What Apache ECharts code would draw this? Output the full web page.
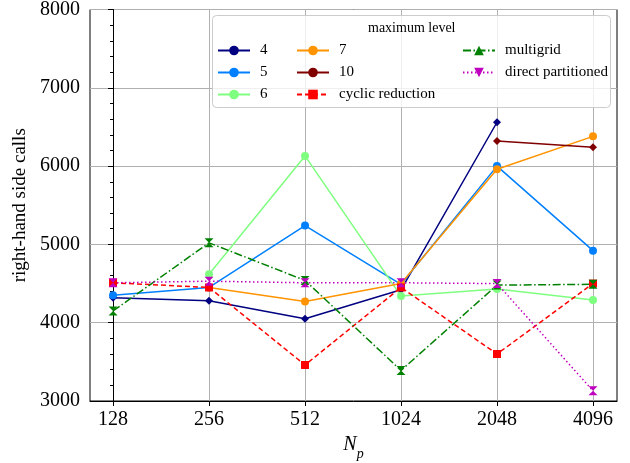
<!DOCTYPE html>
<html><head><meta charset="utf-8">
<script src="https://cdn.jsdelivr.net/npm/echarts@6/dist/echarts.min.js"></script>
<style>html,body{margin:0;padding:0;background:#fff}#c{width:630px;height:463px}</style>
</head><body><div id="c"></div>
<script>
const categories = ['128', '256', '512', '1024', '2048', '4096'];
const yTicks = [3000, 4000, 5000, 6000, 7000, 8000];
const lvl4 = [4320, 4280, 4050, 4420, 6560, null];
const lvl5 = [4350, 4450, 5240, 4490, 6000, 4920];
const lvl6 = [null, 4620, 6130, 4340, 4430, 4290];
const lvl7 = [null, 4450, 4270, 4500, 5960, 6380];
const lvl10 = [null, null, null, null, 6320, 6240];
const cyclic = [4510, 4450, 3460, 4450, 3600, 4500];
const multigrid = [4150, 5020, 4540, 3390, 4480, 4490];
const direct = [4510, 4530, 4510, 4510, 4500, 3130];

const FONT = 'Liberation Serif';
const hourglass = 'path://M0,0L10,0L5,5L10,10L0,10L5,5Z';
const invTri = 'path://M0,0L10,0L5,9Z';

function pts(arr) {
  const out = [];
  arr.forEach((v, i) => { if (v != null) out.push([i, v]); });
  return out;
}
const defs = [
  {name: '4', data: lvl4, color: '#000080', type: 'solid', sym: 'diamond', lsym: 'circle', size: 8},
  {name: '5', data: lvl5, color: '#0080ff', type: 'solid', sym: 'circle', lsym: 'circle', size: 8},
  {name: '6', data: lvl6, color: '#7fff7f', type: 'solid', sym: 'circle', lsym: 'circle', size: 8},
  {name: '7', data: lvl7, color: '#ff9400', type: 'solid', sym: 'circle', lsym: 'circle', size: 8},
  {name: '10', data: lvl10, color: '#800000', type: 'solid', sym: 'diamond', lsym: 'circle', size: 8},
  {name: 'cyclic reduction', data: cyclic, color: '#ff0000', type: [5, 3], sym: 'rect', lsym: 'rect', size: 8},
  {name: 'multigrid', data: multigrid, color: '#008000', type: [8, 2.5, 1.5, 2.5], sym: hourglass, lsym: 'triangle', size: 9},
  {name: 'direct partitioned', data: direct, color: '#bf00bf', type: [1.5, 2.5], sym: hourglass, lsym: invTri, size: 9}
];

const series = [];
defs.forEach(d => series.push({
  type: 'line', name: d.name, data: [], symbol: d.lsym, symbolSize: 7,
  itemStyle: {color: d.color}, lineStyle: {color: d.color, width: 1.5, type: d.type}
}));
defs.forEach(d => series.push({
  type: 'line', name: d.name, data: pts(d.data), symbol: d.sym, symbolSize: d.size,
  showAllSymbol: true, animation: false, z: 2,
  itemStyle: {color: d.color}, lineStyle: {color: d.color, width: 1.5, type: d.type},
  emphasis: {disabled: true}
}));

const legendBase = {
  orient: 'vertical', padding: 0, itemWidth: 32, itemHeight: 12, itemGap: 7, z: 10,
  textStyle: {fontFamily: FONT, fontSize: 15, color: '#000', padding: [0, 0, 0, 5]},
  selectedMode: false
};
const chart = echarts.init(document.getElementById('c'), null, {renderer: 'canvas'});
chart.setOption({
  animation: false,
  backgroundColor: '#fff',
  grid: {left: 90, right: 13, top: 9.5, bottom: 62, containLabel: false, outerBoundsMode: 'none',
         show: true, borderColor: '#000', borderWidth: 1, backgroundColor: 'transparent'},
  xAxis: {
    type: 'value', min: -0.24, max: 5.25,
    name: '{n|N}{p|p}', nameLocation: 'middle', nameGap: 28,
    nameTextStyle: {rich: {
      n: {fontFamily: FONT, fontStyle: 'italic', fontSize: 20, color: '#000', verticalAlign: 'top', lineHeight: 26},
      p: {fontFamily: FONT, fontStyle: 'italic', fontSize: 14, color: '#000', verticalAlign: 'bottom', lineHeight: 26}
    }},
    axisLine: {show: true, onZero: false, lineStyle: {color: '#000', width: 1}},
    axisTick: {show: true, inside: false, length: 5, lineStyle: {color: '#000'}, customValues: [0, 1, 2, 3, 4, 5]},
    axisLabel: {customValues: [0, 1, 2, 3, 4, 5], formatter: v => categories[Math.round(v)], fontFamily: FONT, fontSize: 20, color: '#000', margin: 9},
    splitLine: {show: true, lineStyle: {color: '#b0b0b0', width: 1}}
  },
  yAxis: {
    type: 'value', min: yTicks[0], max: yTicks[yTicks.length - 1], interval: 1000,
    name: 'right-hand side calls', nameLocation: 'middle', nameGap: 56,
    nameTextStyle: {fontFamily: FONT, fontSize: 19, color: '#000'},
    axisLine: {show: true, lineStyle: {color: '#000', width: 1}},
    axisTick: {show: true, inside: false, length: 5, lineStyle: {color: '#000'}},
    minorTick: {show: true, splitNumber: 5, length: 3, lineStyle: {color: '#000'}},
    axisLabel: {formatter: v => String(v), fontFamily: FONT, fontSize: 20, color: '#000', margin: 10},
    splitLine: {show: true, lineStyle: {color: '#b0b0b0', width: 1}}
  },
  legend: [
    Object.assign({}, legendBase, {left: 217, top: 43, data: ['4', '5', '6']}),
    Object.assign({}, legendBase, {left: 296, top: 43, data: ['7', '10', 'cyclic reduction']}),
    Object.assign({}, legendBase, {left: 462, top: 43, data: ['multigrid', 'direct partitioned']})
  ],
  graphic: [
    {type: 'rect', left: 212, top: 15, z: 3, shape: {width: 398, height: 92, r: 4},
     style: {fill: 'rgba(255,255,255,0.8)', stroke: '#cccccc', lineWidth: 1}},
    {type: 'text', left: 368, top: 21, z: 11,
     style: {text: 'maximum level', fontFamily: FONT, fontSize: 14, fill: '#000'}}
  ],
  series: series
});
</script></body></html>
